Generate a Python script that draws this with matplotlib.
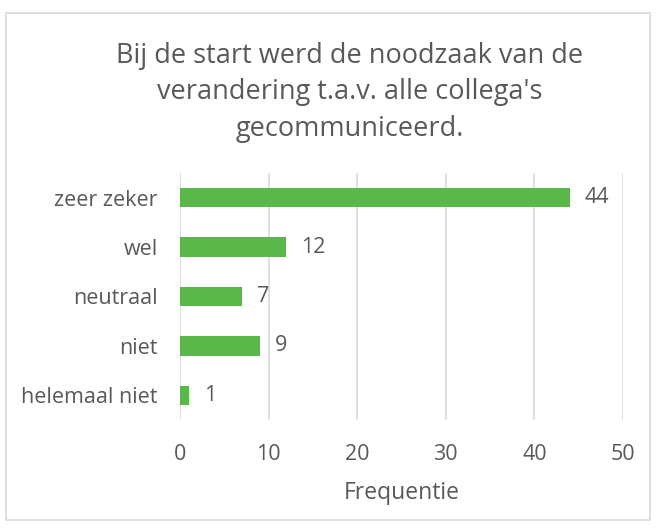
import matplotlib
matplotlib.use("Agg")
import matplotlib.pyplot as plt
from matplotlib.patches import Rectangle

categories = ["zeer zeker", "wel", "neutraal", "niet", "helemaal niet"]
values = [44, 12, 7, 9, 1]
xticks = [0, 10, 20, 30, 40, 50]
title = "Bij de start werd de noodzaak van de\nverandering t.a.v. alle collega's\ngecommuniceerd."
xlabel = "Frequentie"

plt.rcParams['font.family'] = ['Open Sans', 'DejaVu Sans']
txt = '#595959'
fig = plt.figure(figsize=(6.57, 5.28), dpi=100)
fig.patches.append(Rectangle((6/657, 1-520/528), 644/657, 507/528, transform=fig.transFigure,
                             fill=False, edgecolor='#d9d9d9', linewidth=1.2))
ax = fig.add_axes([180/657, 1-420/528, 443/657, 247/528])
ypos = list(range(len(categories)))
ax.barh(ypos, values, height=0.39, color='#5ab84b', zorder=3)
ax.set_ylim(len(categories)-0.5, -0.5)
ax.set_xlim(0, 50)
ax.set_xticks(xticks)
ax.set_yticks(ypos)
ax.set_yticklabels(categories)
ax.grid(axis='x', color='#d9d9d9', linewidth=1.2, zorder=0)
for s in ax.spines.values():
    s.set_visible(False)
ax.tick_params(length=0, colors=txt, labelsize=15.5)
ax.tick_params(axis='x', pad=17)
ax.tick_params(axis='y', pad=16)
for y, v in zip(ypos, values):
    ax.text(v + 1.7, y, str(v), va='center', ha='left', color=txt, fontsize=15.5)
ax.set_xlabel(xlabel, color=txt, fontsize=16.5, labelpad=12)
fig.text(350/657, 1-92.5/528, title, ha='center', va='center', color=txt, fontsize=19.5,
         linespacing=1.4)
fig.savefig("out.png", dpi=100)
